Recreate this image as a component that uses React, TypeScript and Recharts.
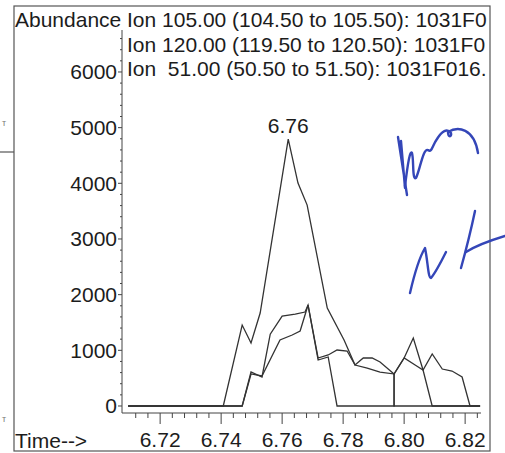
import React from "react";
import { LineChart, Line, XAxis, YAxis, LabelList } from "recharts";

// Ion 105.00 trace (main peak)
const ion105Times = [6.7095, 6.7407, 6.7469, 6.7498, 6.7528, 6.762, 6.7652, 6.7682, 6.7748, 6.7803, 6.7839, 6.7866, 6.7895, 6.7921, 6.7967, 6.8, 6.803, 6.8062, 6.8092, 6.8249];
const ion105Values = [0, 0, 1454, 1131, 1670, 4794, 4004, 3609, 1759, 1185, 736, 862, 862, 790, 575, 862, 1221, 646, 0, 0];

// Ion 120.00 trace
const ion120Times = [6.7095, 6.7469, 6.7498, 6.7534, 6.7561, 6.76, 6.7643, 6.7675, 6.7685, 6.7718, 6.7751, 6.778, 6.7813, 6.7839, 6.7879, 6.7921, 6.7967, 6.7967, 6.8249];
const ion120Values = [0, 0, 610, 521, 1290, 1616, 1652, 1688, 1813, 862, 916, 1005, 987, 736, 682, 610, 575, 0, 0];

// Ion 51.00 trace
const ion51Times = [6.7095, 6.7469, 6.7498, 6.7534, 6.7593, 6.7633, 6.7659, 6.7685, 6.7718, 6.7751, 6.778, 6.7967, 6.7967, 6.8, 6.8036, 6.8062, 6.8092, 6.8125, 6.8157, 6.819, 6.8216, 6.8249];
const ion51Values = [0, 0, 575, 539, 1185, 1275, 1346, 1813, 826, 880, 0, 0, 575, 862, 736, 646, 934, 664, 628, 521, 0, 0];

const headerLines = [
  "Ion 105.00 (104.50 to 105.50): 1031F0",
  "Ion 120.00 (119.50 to 120.50): 1031F0",
  "Ion  51.00 (50.50 to 51.50): 1031F016.",
];
const yAxisTitle = "Abundance";
const xAxisTitle = "Time-->";

const xMajorLabels = [6.72, 6.74, 6.76, 6.78, 6.8, 6.82];
const xMinorStep = 0.004;
const yMajorStep = 1000;
const yMinorStep = 200;

const xTicks: number[] = [];
for (let i = 0; i <= 28; i++) xTicks.push(Math.round((6.712 + i * xMinorStep) * 1000) / 1000);
const yTicks: number[] = [];
for (let v = 0; v <= 6600; v += yMinorStep) yTicks.push(v);

const toData = (ts: number[], vs: number[]) => ts.map((t, i) => ({ t, v: vs[i] }));
const data105 = toData(ion105Times, ion105Values);
const data120 = toData(ion120Times, ion120Values);
const data51 = toData(ion51Times, ion51Values);

let peakIdx = 0;
ion105Values.forEach((v, i) => {
  if (v > ion105Values[peakIdx]) peakIdx = i;
});

const FONT = '"Liberation Sans", Arial, Helvetica, sans-serif';
const INK = "#1c1c1c";
const LINE = "#333";
const AXIS = "#444";

const XTick = (props: any) => {
  const { x, y, payload } = props;
  const v = payload.value as number;
  const major = xMajorLabels.some((m) => Math.abs(m - v) < 1e-6);
  return (
    <g>
      <line x1={x} x2={x} y1={y} y2={y + (major ? 11 : 5)} stroke={AXIS} strokeWidth={1} />
      {major && (
        <text x={x} y={y + 34} textAnchor="middle" fontSize={21} fontFamily={FONT} fill={INK}>
          {v.toFixed(2)}
        </text>
      )}
    </g>
  );
};

const YTick = (props: any) => {
  const { x, y, payload } = props;
  const v = payload.value as number;
  const major = v % yMajorStep === 0;
  return (
    <g>
      <line x1={x} x2={x - (major ? 4 : 2)} y1={y} y2={y} stroke={AXIS} strokeWidth={1} />
      {major && v <= 6000 && (
        <text x={x - 5} y={y + 7.5} textAnchor="end" fontSize={21} fontFamily={FONT} fill={INK}>
          {v}
        </text>
      )}
    </g>
  );
};

const PeakLabel = (props: any) => {
  const { x, y, index } = props;
  if (index !== peakIdx) return null;
  return (
    <text x={x} y={y - 6} textAnchor="middle" fontSize={21} fontFamily={FONT} fill={INK}>
      {ion105Times[peakIdx].toFixed(2)}
    </text>
  );
};

export default function App() {
  return (
    <div style={{ position: "absolute", left: 0, top: 0, width: 505, height: 453, background: "#fff", overflow: "hidden" }}>
      <LineChart
        width={505}
        height={453}
        margin={{ top: 30, right: 24, bottom: 10, left: 62 }}
      >
        <XAxis
          type="number"
          dataKey="t"
          domain={[6.7075, 6.8252]}
          allowDataOverflow
          ticks={xTicks}
          interval={0}
          tick={<XTick />}
          tickLine={false}
          tickSize={0}
          tickMargin={0}
          height={30}
          stroke={AXIS}
        />
        <YAxis
          type="number"
          domain={[-126, 6754]}
          allowDataOverflow
          ticks={yTicks}
          interval={0}
          tick={<YTick />}
          tickLine={false}
          tickSize={0}
          tickMargin={0}
          width={60}
          stroke={AXIS}
        />
        <Line data={data51} dataKey="v" type="linear" stroke={LINE} strokeWidth={1.3} dot={false} isAnimationActive={false} />
        <Line data={data120} dataKey="v" type="linear" stroke={LINE} strokeWidth={1.3} dot={false} isAnimationActive={false} />
        <Line data={data105} dataKey="v" type="linear" stroke={LINE} strokeWidth={1.3} dot={false} isAnimationActive={false}>
          <LabelList dataKey="v" content={<PeakLabel />} />
        </Line>
      </LineChart>
      <svg width={505} height={453} style={{ position: "absolute", left: 0, top: 0, pointerEvents: "none" }}>
        <rect x={14} y={6} width={476} height={445} fill="none" stroke="#555" strokeWidth={1.2} />
        <line x1={0} x2={14} y1={152} y2={152} stroke="#555" strokeWidth={1.2} />
        <text x={2} y={126} fontSize={9} fontFamily={FONT} fill="#777">т</text>
        <text x={2} y={422} fontSize={9} fontFamily={FONT} fill="#777">т</text>
        <text x={15} y={27} fontSize={21} fontFamily={FONT} fill={INK}>{yAxisTitle}</text>
        {headerLines.map((s, i) => (
          <text key={i} x={127} y={27 + i * 24.5} fontSize={21} fontFamily={FONT} fill={INK} style={{ whiteSpace: "pre" }}>
            {s}
          </text>
        ))}
        <text x={15} y={448} fontSize={21} fontFamily={FONT} fill={INK}>{xAxisTitle}</text>
        <g fill="none" stroke="#3446b8" strokeWidth={2.4} strokeLinecap="round" strokeLinejoin="round">
          <path d="M398,137 L407,195 M401,141 L405,188" />
          <path d="M405,186 C408,162 410,150 412,153 C414,160 412,180 416,178 C420,170 423,148 428,150 C432,153 432,146 437,139 C442,131 447,128 451,133 C452,137 448,138 448,132 C458,126 474,128 478,153" />
          <path d="M410,293 C413,280 419,258 425,248 C428,262 428,278 431,278 C436,272 441,262 446,252" />
          <path d="M475,211 C471,230 466,250 461,268" />
          <path d="M466,252 C474,247 482,243 505,236" />
        </g>
      </svg>
    </div>
  );
}
